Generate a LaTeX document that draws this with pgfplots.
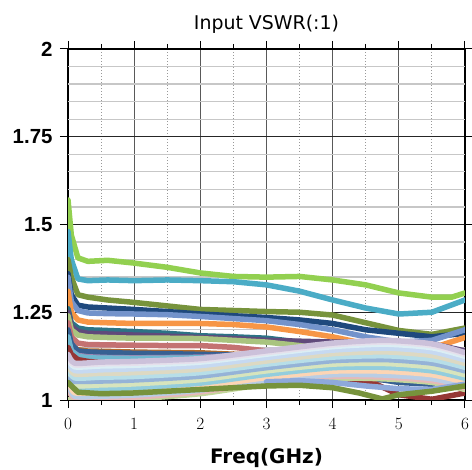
\documentclass[border=0pt]{standalone}
\usepackage{fontspec}
\usepackage{pgfplots}
\pgfplotsset{compat=1.18}
\newfontfamily\arialfont{Liberation Sans}
\newfontfamily\dejavu{DejaVu Sans}
\definecolor{cLG}{HTML}{92D050}
\definecolor{cBL}{HTML}{4BACC6}
\definecolor{cOL}{HTML}{77933C}
\definecolor{cNV}{HTML}{1F497D}
\definecolor{cMB}{HTML}{7393CB}
\definecolor{cOR}{HTML}{F79646}
\definecolor{cTL}{HTML}{2C7385}
\definecolor{cPU}{HTML}{604A7B}
\definecolor{cLO}{HTML}{A9C47F}
\definecolor{cRO}{HTML}{C47272}
\definecolor{cBR}{HTML}{B36B2C}
\definecolor{cDB}{HTML}{376092}
\definecolor{cDR}{HTML}{953735}
\definecolor{cLV}{HTML}{9A86B4}
\definecolor{cLB}{HTML}{6FB7CF}
\definecolor{cPB}{HTML}{8EA9DB}
\begin{document}
\begin{tikzpicture}
\begin{axis}[
  scale only axis, width=397bp, height=351bp,
  xmin=0, xmax=6, ymin=1, ymax=2,
  xtick={0,1,2,3,4,5,6}, minor x tick num=1,
  ytick={1,1.25,1.5,1.75,2}, yticklabels={1,1.25,1.5,1.75,2},
  extra y ticks={1.05,1.1,1.15,1.2,1.3,1.35,1.4,1.45,1.55,1.6,1.65,1.7,1.8,1.85,1.9,1.95},
  extra y tick labels={},
  extra y tick style={grid=major, major y grid style={color=black!22, line width=1.3bp}, major tick length=0pt},
  xmajorgrids, xminorgrids, ymajorgrids,
  major x grid style={color=black!65, line width=1.2bp},
  minor x grid style={color=black!40, line width=1bp, dotted},
  major y grid style={color=black!85, line width=1.2bp},
  axis line style={line width=1.5bp, black},
  tick align=outside, major tick length=8bp, minor tick length=5bp,
  tick style={black, line width=1bp},
  x tick label style={font=\fontsize{19}{19}\selectfont, yshift=-7bp},
  y tick label style={font=\arialfont\bfseries\fontsize{20.5}{20}\selectfont, xshift=-4bp},
  xlabel={Freq(GHz)},
  xlabel style={font=\dejavu\bfseries\fontsize{20}{20}\selectfont, yshift=-12bp},
  title={Input VSWR(:1)},
  title style={font=\dejavu\fontsize{19}{19}\selectfont, yshift=6bp},
  every axis plot/.append style={line width=5.5bp, line join=round, line cap=round},
]
% saturated upper curves
\addplot[cLG] coordinates {(0,1.57)(0.05,1.47)(0.15,1.405)(0.3,1.395)(0.6,1.398)(1,1.39)(1.5,1.378)(2,1.362)(2.5,1.352)(3,1.35)(3.5,1.352)(4,1.342)(4.5,1.328)(5,1.305)(5.5,1.293)(5.8,1.293)(6,1.305)};
\addplot[cBL] coordinates {(0,1.48)(0.05,1.40)(0.15,1.345)(0.3,1.34)(0.6,1.342)(1,1.34)(1.5,1.342)(2,1.34)(2.5,1.337)(3,1.328)(3.5,1.31)(4,1.285)(4.5,1.262)(5,1.245)(5.5,1.25)(6,1.285)};
\addplot[cOL] coordinates {(0,1.40)(0.05,1.35)(0.15,1.30)(0.3,1.293)(0.6,1.285)(1,1.278)(1.5,1.268)(2,1.258)(2.5,1.255)(3,1.252)(3.5,1.25)(4,1.242)(4.5,1.22)(5,1.198)(5.5,1.187)(6,1.205)};
\addplot[cNV] coordinates {(0,1.36)(0.05,1.30)(0.15,1.27)(0.3,1.265)(0.6,1.262)(1,1.258)(1.5,1.252)(2,1.245)(2.5,1.24)(3,1.235)(3.5,1.228)(4,1.218)(4.5,1.20)(5,1.19)(5.5,1.18)(6,1.19)};
\addplot[cMB] coordinates {(0,1.35)(0.05,1.28)(0.15,1.255)(0.3,1.248)(0.6,1.246)(1,1.245)(1.5,1.243)(2,1.238)(2.5,1.232)(3,1.226)(3.5,1.215)(4,1.20)(4.5,1.18)(5,1.165)(5.5,1.17)(6,1.20)};
\addplot[cOR] coordinates {(0,1.31)(0.05,1.25)(0.15,1.228)(0.3,1.222)(0.6,1.22)(1,1.218)(1.5,1.218)(2,1.218)(2.5,1.215)(3,1.208)(3.5,1.195)(4,1.18)(4.5,1.16)(5,1.15)(5.5,1.148)(6,1.178)};
\addplot[cTL] coordinates {(0,1.26)(0.05,1.22)(0.15,1.205)(0.3,1.2)(0.6,1.198)(1,1.195)(1.5,1.19)(2,1.183)(2.5,1.18)(3,1.176)(3.5,1.165)(4,1.15)(4.5,1.135)(5,1.12)(5.5,1.11)(6,1.12)};
\addplot[cPU] coordinates {(0,1.25)(0.05,1.21)(0.15,1.195)(0.3,1.19)(0.6,1.188)(1,1.185)(1.5,1.182)(2,1.178)(2.5,1.175)(3,1.17)(4,1.165)(5,1.165)(5.5,1.16)(6,1.14)};
\addplot[cLO] coordinates {(0,1.24)(0.05,1.2)(0.15,1.185)(0.3,1.18)(0.6,1.178)(1,1.176)(1.5,1.176)(2,1.175)(2.5,1.17)(3,1.165)(3.5,1.155)(4,1.14)(4.5,1.13)(5,1.12)(5.5,1.11)(6,1.10)};
\addplot[cRO] coordinates {(0,1.22)(0.05,1.18)(0.15,1.162)(0.3,1.158)(0.6,1.157)(1,1.156)(1.5,1.155)(2,1.155)(2.5,1.15)(3,1.14)(3.5,1.13)(4,1.11)(4.5,1.1)(5,1.09)(5.5,1.08)(6,1.07)};
\addplot[cBR, line width=3bp] coordinates {(0,1.19)(0.05,1.16)(0.15,1.147)(0.3,1.143)(0.6,1.142)(1,1.14)(2,1.138)(3,1.13)(4,1.11)(5,1.09)(6,1.08)};
\addplot[cDB] coordinates {(0,1.2)(0.05,1.16)(0.15,1.14)(0.3,1.137)(0.6,1.135)(1,1.133)(1.5,1.132)(2,1.13)(2.5,1.128)(3,1.12)(3.5,1.10)(4,1.08)(4.5,1.065)(5,1.05)(5.5,1.045)(6,1.06)};
\addplot[cLV] coordinates {(0,1.17)(0.05,1.14)(0.15,1.127)(0.3,1.123)(0.6,1.121)(1,1.12)(2,1.122)(3,1.13)(4,1.14)(5,1.14)(6,1.12)};
\addplot[cLB] coordinates {(0,1.18)(0.05,1.14)(0.15,1.125)(0.3,1.12)(1,1.118)(2,1.12)(3,1.125)(4,1.12)(5,1.1)(6,1.07)};
\addplot[cDR] coordinates {(0,1.15)(0.05,1.13)(0.15,1.115)(0.3,1.11)(0.6,1.105)(1,1.1)(2,1.09)(3,1.075)(4,1.066)(4.6,1.05)(5,1.015)(5.5,1.002)(6,1.02)};
% pastel band
\addplot[smooth, tension=0.4, color={rgb,255:red,195;green,214;blue,155}] coordinates {(0,1.0)(0.1,1.0)(0.5,1.0)(1,1.003)(2,1.018)(3,1.045)(4,1.062)(4.8,1.06)(5.5,1.05)(6,1.03)};
\addplot[smooth, tension=0.4, color={rgb,255:red,230;green,185;blue,184}] coordinates {(0,1.03)(0.1,1.006)(0.5,1.005)(1,1.008)(2,1.023)(3,1.05)(4,1.067)(4.8,1.065)(5.5,1.055)(6,1.035)};
\addplot[smooth, tension=0.4, color={rgb,255:red,185;green,205;blue,229}] coordinates {(0,1.05)(0.1,1.011)(0.5,1.011)(1,1.014)(2,1.028)(3,1.055)(4,1.072)(4.8,1.071)(5.5,1.061)(6,1.041)};
\addplot[smooth, tension=0.4, color={rgb,255:red,252;green,213;blue,181}] coordinates {(0,1.06)(0.1,1.021)(0.5,1.022)(1,1.024)(2,1.038)(3,1.064)(4,1.082)(4.8,1.082)(5.5,1.072)(6,1.051)};
\addplot[smooth, tension=0.4, color={rgb,255:red,147;green,205;blue,221}] coordinates {(0,1.07)(0.1,1.032)(0.5,1.032)(1,1.035)(2,1.048)(3,1.073)(4,1.092)(4.8,1.093)(5.5,1.083)(6,1.062)};
\addplot[smooth, tension=0.4, color={rgb,255:red,215;green,228;blue,189}] coordinates {(0,1.08)(0.1,1.042)(0.5,1.043)(1,1.046)(2,1.058)(3,1.083)(4,1.102)(4.8,1.104)(5.5,1.094)(6,1.072)};
\addplot[smooth, tension=0.4, color={rgb,255:red,149;green,179;blue,215}] coordinates {(0,1.06)(0.1,1.053)(0.5,1.054)(1,1.057)(2,1.068)(3,1.092)(4,1.112)(4.8,1.115)(5.5,1.105)(6,1.083)};
\addplot[smooth, tension=0.4, color={rgb,255:red,183;green,222;blue,232}] coordinates {(0,1.09)(0.1,1.063)(0.5,1.065)(1,1.067)(2,1.078)(3,1.102)(4,1.122)(4.8,1.126)(5.5,1.116)(6,1.093)};
\addplot[smooth, tension=0.4, color={rgb,255:red,221;green,217;blue,195}] coordinates {(0,1.1)(0.1,1.074)(0.5,1.076)(1,1.078)(2,1.088)(3,1.111)(4,1.132)(4.8,1.137)(5.5,1.127)(6,1.104)};
\addplot[smooth, tension=0.4, color={rgb,255:red,198;green,217;blue,241}] coordinates {(0,1.11)(0.1,1.084)(0.5,1.086)(1,1.089)(2,1.098)(3,1.121)(4,1.142)(4.8,1.148)(5.5,1.138)(6,1.114)};
\addplot[smooth, tension=0.4, color={rgb,255:red,219;green,238;blue,244}] coordinates {(0,1.12)(0.1,1.0945)(0.5,1.097)(1,1.099)(2,1.108)(3,1.1305)(4,1.152)(4.8,1.159)(5.5,1.149)(6,1.1245)};
\addplot[smooth, tension=0.4, color={rgb,255:red,229;green,224;blue,236}] coordinates {(0,1.12)(0.1,1.1)(0.5,1.103)(1,1.105)(2,1.113)(3,1.135)(4,1.157)(4.8,1.165)(5.5,1.155)(6,1.13)};
\addplot[smooth, tension=0.4, color={rgb,255:red,204;green,193;blue,218}] coordinates {(0,1.13)(0.1,1.105)(0.5,1.108)(1,1.11)(2,1.118)(3,1.14)(4,1.162)(4.8,1.17)(5.5,1.16)(6,1.135)};
% curves at the bottom
\addplot[cPB] coordinates {(3,1.052)(3.5,1.055)(4,1.05)(4.5,1.04)(5,1.032)(5.5,1.03)(6,1.045)};
\addplot[cOL] coordinates {(0,1.05)(0.15,1.022)(0.5,1.018)(1,1.02)(2,1.03)(3,1.04)(3.5,1.042)(4,1.035)(4.4,1.02)(4.75,1.003)(5,1.015)(5.5,1.025)(6,1.04)};
\end{axis}
\pgfresetboundingbox
\path (current axis.south west) ++(-68bp,-70bp) rectangle ++(472bp,470bp);
\end{tikzpicture}
\end{document}
